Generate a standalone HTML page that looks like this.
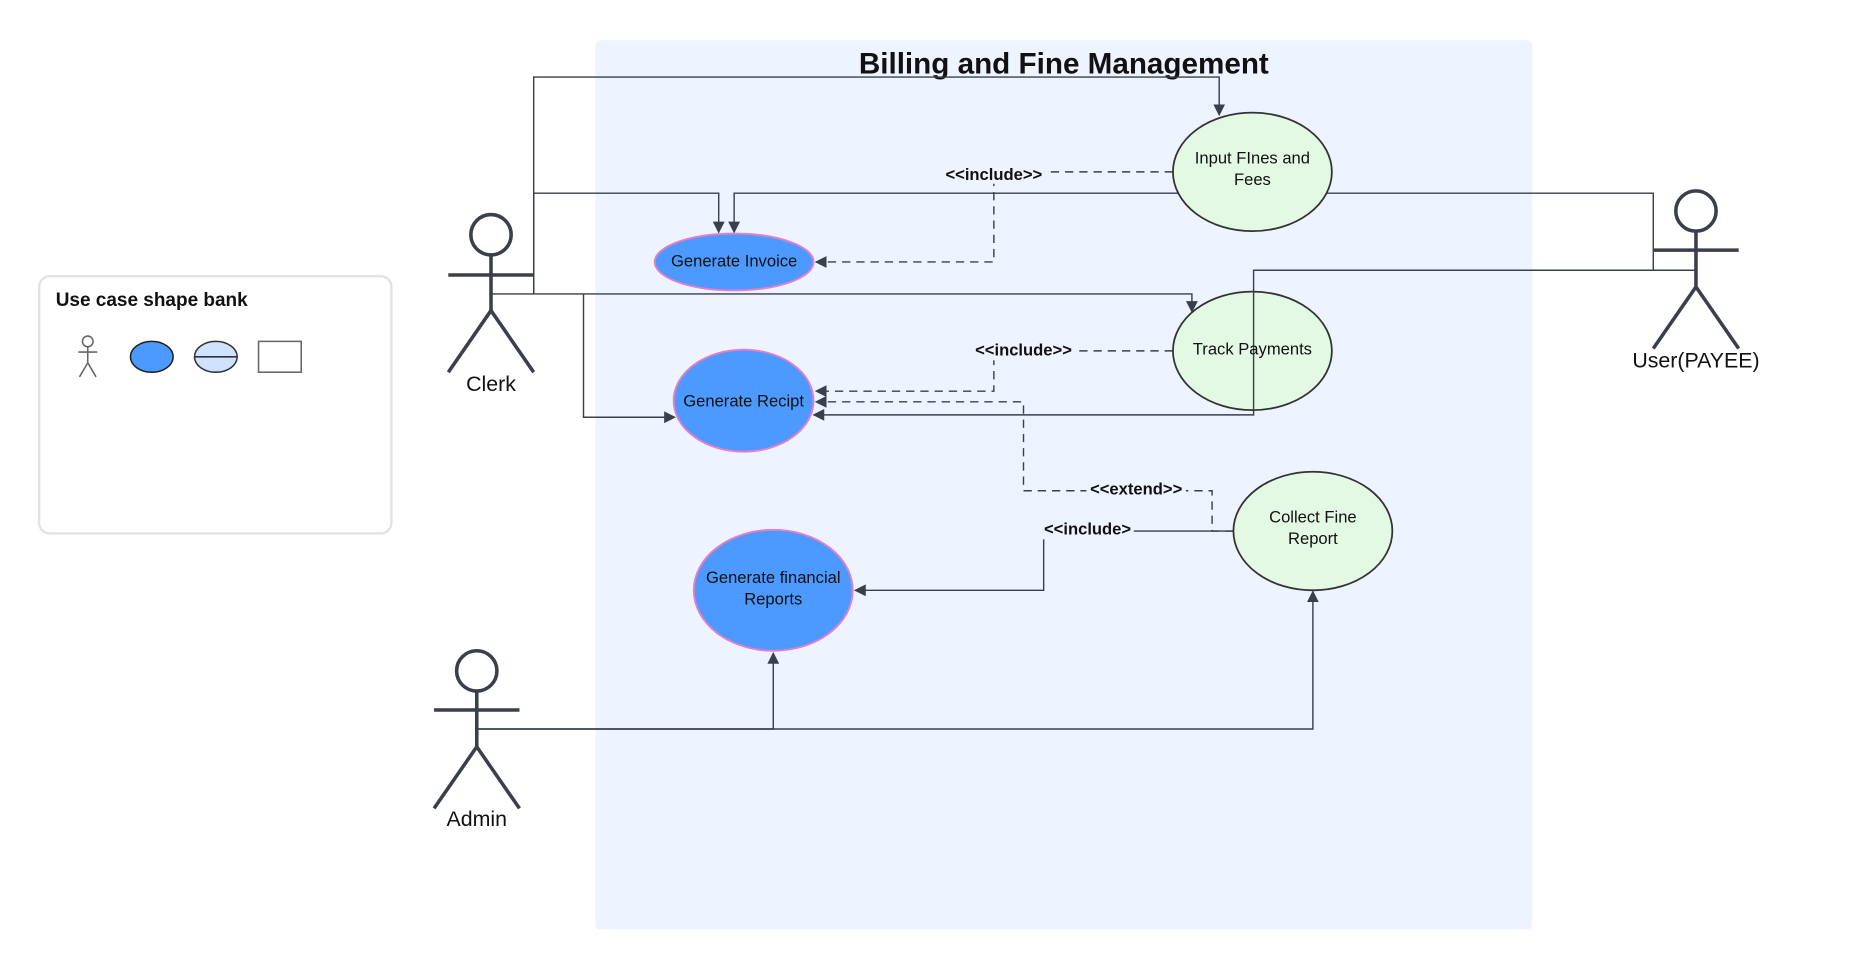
<!DOCTYPE html>
<html><head><meta charset="utf-8"><style>
html,body{margin:0;padding:0;background:#fff;width:1862px;height:972px;overflow:hidden}
svg{display:block}
text{font-family:"Liberation Sans",sans-serif;fill:#111}
</style></head><body>
<svg width="1862" height="972" viewBox="0 0 1570 820" preserveAspectRatio="none" xmlns="http://www.w3.org/2000/svg">
<defs>
<marker id="a" markerWidth="10" markerHeight="10" refX="9" refY="5" orient="auto" markerUnits="userSpaceOnUse"><path d="M0,0 L10,5 L0,10 z" fill="#3a3f4b"/></marker>
</defs>
<rect x="502" y="34" width="790" height="750" rx="4" fill="#EDF4FF"/>
<text x="897" y="62" font-size="25" font-weight="bold" text-anchor="middle">Billing and Fine Management</text>

<!-- legend -->
<rect x="33" y="233" width="297" height="217" rx="9" fill="#fff" stroke="#e2e2e2" stroke-width="2"/>
<text x="47" y="258" font-size="16" font-weight="bold">Use case shape bank</text>
<g stroke="#666" stroke-width="1.3" fill="none">
<circle cx="74" cy="288" r="4.5"/><line x1="74" y1="292" x2="74" y2="306"/><line x1="66" y1="297" x2="82" y2="297"/><line x1="74" y1="306" x2="67" y2="318"/><line x1="74" y1="306" x2="81" y2="318"/>
</g>
<ellipse cx="128" cy="301" rx="18" ry="13" fill="#4C9AFF" stroke="#222" stroke-width="1.3"/>
<ellipse cx="182" cy="301" rx="18" ry="13" fill="#cfe2ff" stroke="#333" stroke-width="1.3"/>
<line x1="164" y1="301" x2="200" y2="301" stroke="#333" stroke-width="1.3"/>
<rect x="218" y="288" width="36" height="26" fill="#fff" stroke="#666" stroke-width="1.3"/>

<!-- connectors -->
<g stroke="#3a3f4b" stroke-width="1.2" fill="none">
<path d="M450,248 L450,65 L1028,65 L1028,97" marker-end="url(#a)"/>
<path d="M450,248 L450,163 L606,163 L606,196" marker-end="url(#a)"/>
<path d="M1430,228 L1394,228 L1394,163 L619,163 L619,196" marker-end="url(#a)"/>
<path d="M1430,228 L1057,228 L1057,350 L686,350" marker-end="url(#a)"/>
<path d="M414,248 L1005,248 L1005,263" marker-end="url(#a)"/>
<path d="M492,248 L492,352 L569,352" marker-end="url(#a)"/>
<path d="M1040,448 L880,448 L880,498 L721,498" marker-end="url(#a)"/>
<path d="M402,615 L652,615 L652,551" marker-end="url(#a)"/>
<path d="M402,615 L1107,615 L1107,499" marker-end="url(#a)"/>
</g>
<g stroke="#3a3f4b" stroke-width="1.2" fill="none" stroke-dasharray="7,5">
<path d="M989,145 L838,145 L838,221 L688,221" marker-end="url(#a)"/>
<path d="M989,296 L838,296 L838,330 L688,330" marker-end="url(#a)"/>
<path d="M1040,448 L1022,448 L1022,414 L863,414 L863,339 L688,339" marker-end="url(#a)"/>
</g>
<g font-size="14" font-weight="bold" text-anchor="middle">
<rect x="795" y="139" width="86" height="16" fill="#EDF4FF"/><text x="838" y="152">&lt;&lt;include&gt;&gt;</text>
<rect x="820" y="288" width="86" height="16" fill="#EDF4FF"/><text x="863" y="300">&lt;&lt;include&gt;&gt;</text>
<rect x="916" y="405" width="84" height="16" fill="#EDF4FF"/><text x="958" y="417">&lt;&lt;extend&gt;&gt;</text>
<rect x="878" y="439" width="78" height="16" fill="#EDF4FF"/><text x="917" y="451">&lt;&lt;include&gt;</text>
</g>

<!-- use cases -->
<g stroke="#333" stroke-width="1.5" fill="#E3F9E3">
<ellipse cx="1056" cy="145" rx="67" ry="50"/>
<ellipse cx="1056" cy="296" rx="67" ry="50"/>
<ellipse cx="1107" cy="448" rx="67" ry="50"/>
</g>
<path d="M1057,246 L1057,346" stroke="#3a3f4b" stroke-width="1.2"/>
<g stroke="#E87DC8" stroke-width="1.6" fill="#4C9AFF">
<ellipse cx="619" cy="221" rx="67" ry="24"/>
<ellipse cx="627" cy="338" rx="59" ry="43"/>
<ellipse cx="652" cy="498" rx="67" ry="51"/>
</g>
<g font-size="14" text-anchor="middle">
<text x="1056" y="138">Input FInes and</text><text x="1056" y="156">Fees</text>
<text x="1056" y="299">Track Payments</text>
<text x="1107" y="441">Collect Fine</text><text x="1107" y="459">Report</text>
<text x="619" y="225">Generate Invoice</text>
<text x="627" y="343">Generate Recipt</text>
<text x="652" y="492">Generate financial</text><text x="652" y="510">Reports</text>
</g>

<!-- actors -->
<g stroke="#3a3f4b" stroke-width="3" fill="none">
<circle cx="414" cy="198" r="17"/><line x1="414" y1="215" x2="414" y2="262"/><line x1="378" y1="232" x2="450" y2="232"/><line x1="414" y1="262" x2="378" y2="314"/><line x1="414" y1="262" x2="450" y2="314"/>
<circle cx="402" cy="566" r="17"/><line x1="402" y1="583" x2="402" y2="630"/><line x1="366" y1="599" x2="438" y2="599"/><line x1="402" y1="630" x2="366" y2="682"/><line x1="402" y1="630" x2="438" y2="682"/>
<circle cx="1430" cy="178" r="17"/><line x1="1430" y1="195" x2="1430" y2="242"/><line x1="1394" y1="211" x2="1466" y2="211"/><line x1="1430" y1="242" x2="1394" y2="294"/><line x1="1430" y1="242" x2="1466" y2="294"/>
</g>
<g font-size="18" text-anchor="middle">
<text x="414" y="330">Clerk</text>
<text x="402" y="697">Admin</text>
<text x="1430" y="310">User(PAYEE)</text>
</g>
</svg>
</body></html>
